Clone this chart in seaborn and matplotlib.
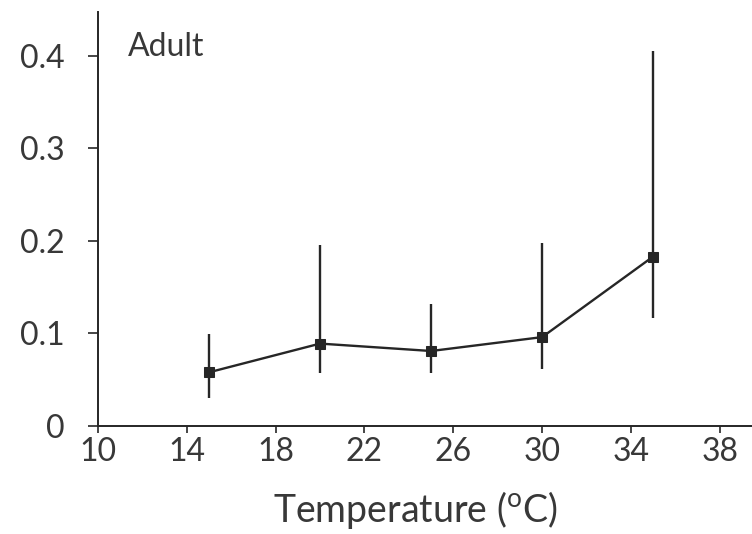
import pandas as pd
import matplotlib
matplotlib.use("Agg")
import matplotlib.pyplot as plt
import seaborn as sns

# values
temperature = [15, 20, 25, 30, 35]
mean_val = [0.058, 0.089, 0.081, 0.096, 0.183]
err_low = [0.030, 0.057, 0.057, 0.062, 0.117]
err_high = [0.099, 0.195, 0.132, 0.198, 0.405]

xticks = [10, 14, 18, 22, 26, 30, 34, 38]
yticks = [0, 0.1, 0.2, 0.3, 0.4]
ytick_labels = ["0", "0.1", "0.2", "0.3", "0.4"]

df = pd.DataFrame({"temp": temperature, "mean": mean_val,
                   "lo": err_low, "hi": err_high})

sns.set_style("ticks")
plt.rcParams['font.family'] = ['Lato', 'DejaVu Sans']
plt.rcParams['font.weight'] = 'normal'
plt.rcParams['mathtext.fontset'] = 'custom'
plt.rcParams['mathtext.rm'] = 'Lato'

fig = plt.figure(figsize=(7.52, 5.34), dpi=100)
ax = fig.add_axes([0.1303, 0.2022, 0.8697, 0.7753])

col = "#262626"
txt = "#383838"
ax.vlines(df["temp"], df["lo"], df["hi"], color=col, linewidth=1.7)
sns.lineplot(data=df, x="temp", y="mean", ax=ax, color=col, linewidth=1.7,
             marker="s", markersize=7, markeredgecolor=col, markerfacecolor=col)

ax.set_xlim(10, 39.45)
ax.set_ylim(0, 0.447)
ax.set_xticks(xticks)
ax.set_yticks(yticks)
ax.set_yticklabels(ytick_labels)

for s in ["top", "right"]:
    ax.spines[s].set_visible(False)
for s in ["left", "bottom"]:
    ax.spines[s].set_color(col)
    ax.spines[s].set_linewidth(1.4)

ax.tick_params(axis="y", direction="out", length=7, width=1.2, pad=17,
               labelsize=23, colors=col, labelcolor=txt)
ax.tick_params(axis="x", direction="out", length=5, width=1.2, pad=3,
               labelsize=23, colors=col, labelcolor=txt)

ax.set_xlabel("Temperature ($^{\\mathrm{o}}$C)", fontsize=27, color=txt)
ax.xaxis.set_label_coords(0.486, -0.153)
ax.set_ylabel("")
ax.text(11.35, 0.399, "Adult", fontsize=23, color=txt, va="baseline")

plt.savefig("out.png", dpi=100)
